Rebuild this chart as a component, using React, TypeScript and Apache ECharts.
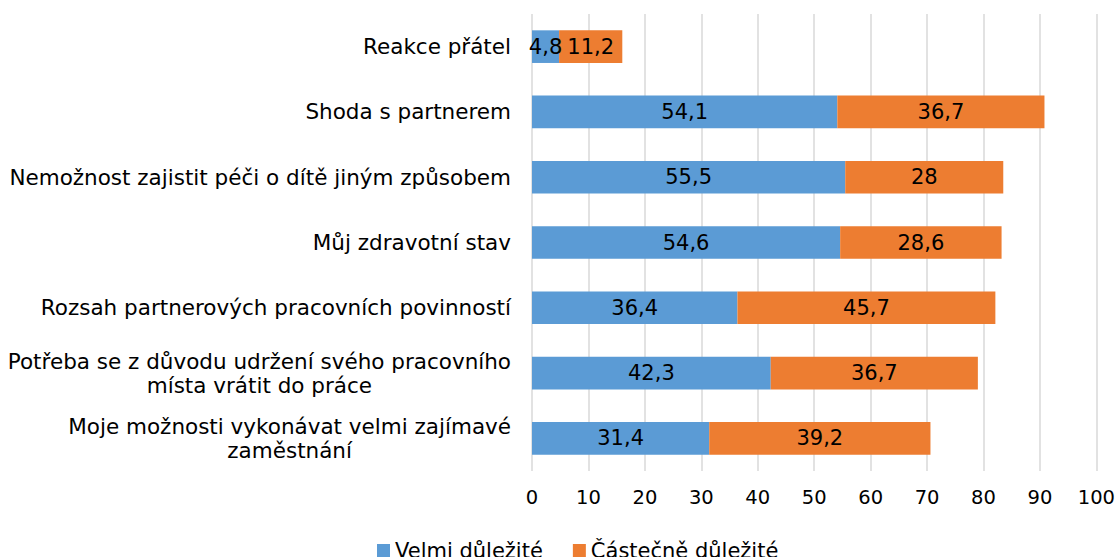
import React, { useEffect, useRef } from "react";
import * as echarts from "echarts";

const categories = [
  "Moje možnosti vykonávat velmi zajímavé\nzaměstnání",
  "Potřeba se z důvodu udržení svého pracovního\nmísta vrátit do práce",
  "Rozsah partnerových pracovních povinností",
  "Můj zdravotní stav",
  "Nemožnost zajistit péči o dítě jiným způsobem",
  "Shoda s partnerem",
  "Reakce přátel",
];
const velmi = [31.4, 42.3, 36.4, 54.6, 55.5, 54.1, 4.8];
const castecne = [39.2, 36.7, 45.7, 28.6, 28, 36.7, 11.2];
const seriesNames = ["Velmi důležité", "Částečně důležité"];

const FONT = "DejaVu Sans, Verdana, sans-serif";

export default function App() {
  const ref = useRef<HTMLDivElement>(null);
  useEffect(() => {
    if (!ref.current) return;
    const chart = echarts.init(ref.current, null, { renderer: "svg" });
    const fmt = (p: any) => String(p.value).replace(".", ",");
    chart.setOption({
      animation: false,
      textStyle: { fontFamily: FONT },
      grid: { left: 532, right: 21, top: 14, bottom: 86, containLabel: false },
      legend: {
        data: seriesNames,
        top: 535,
        left: 372,
        icon: "rect",
        itemWidth: 13,
        itemHeight: 13,
        itemGap: 30,
        textStyle: { fontSize: 21, color: "#000", fontFamily: FONT },
      },
      xAxis: {
        type: "value",
        min: 0,
        max: 100,
        interval: 10,
        axisLine: { show: false },
        axisTick: { show: false },
        splitLine: { show: true, lineStyle: { color: "#d9d9d9", width: 1.5 } },
        axisLabel: { fontSize: 19.5, color: "#000", margin: 16, fontFamily: FONT },
      },
      yAxis: {
        type: "category",
        data: categories,
        axisLine: { show: false },
        axisTick: { show: false },
        axisLabel: {
          fontSize: 21.5,
          color: "#000",
          margin: 21,
          lineHeight: 24,
          fontFamily: FONT,
          formatter: (v: string) =>
            v
              .split("\n")
              .map((l) => `{c|${l}}`)
              .join("\n"),
          rich: {
            c: { align: "center", fontSize: 21.5, lineHeight: 24, color: "#000", fontFamily: FONT },
          },
        },
      },
      series: [
        {
          name: seriesNames[0],
          type: "bar",
          stack: "total",
          data: velmi,
          barWidth: "50%",
          itemStyle: { color: "#5B9BD5" },
          label: { show: true, position: "inside", color: "#000", fontSize: 21, fontFamily: FONT, formatter: fmt },
        },
        {
          name: seriesNames[1],
          type: "bar",
          stack: "total",
          data: castecne,
          barWidth: "50%",
          itemStyle: { color: "#ED7D31" },
          label: { show: true, position: "inside", color: "#000", fontSize: 21, fontFamily: FONT, formatter: fmt },
        },
      ],
    });
    return () => chart.dispose();
  }, []);
  return (
    <div
      ref={ref}
      style={{ position: "fixed", left: 0, top: 0, width: 1118, height: 557, background: "#fff" }}
    />
  );
}
